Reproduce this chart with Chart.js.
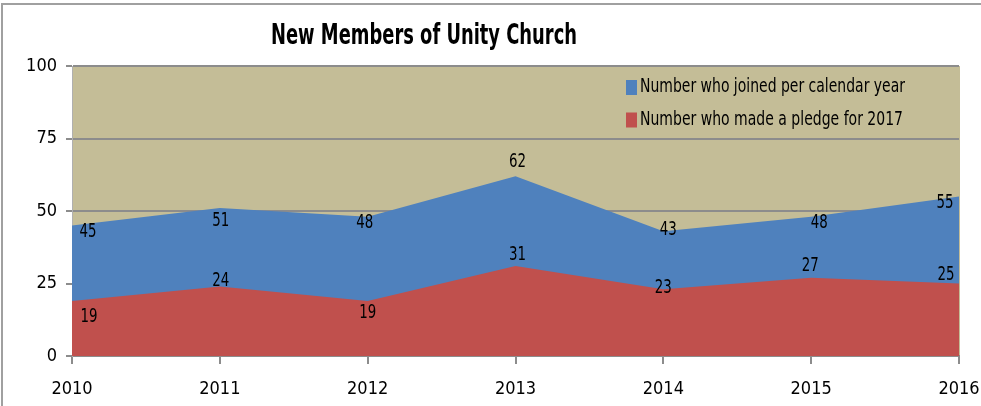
<!DOCTYPE html>
<html>
<head>
<meta charset="utf-8">
<script src="https://cdn.jsdelivr.net/npm/chart.js@4"></script>
<style>
  html, body { margin: 0; padding: 0; background: #fff; }
  #wrap { width: 981px; height: 406px; }
</style>
</head>
<body>
<div id="wrap"><canvas id="membersChart" width="981" height="406"></canvas></div>
<script>
const years = ['2010', '2011', '2012', '2013', '2014', '2015', '2016'];
const joined = [45, 51, 48, 62, 43, 48, 55];
const pledged = [19, 24, 19, 31, 23, 27, 25];
const yTicks = [0, 25, 50, 75, 100];

const chartTitle = 'New Members of Unity Church';
const joinedLabel = 'Number who joined per calendar year';
const pledgedLabel = 'Number who made a pledge for 2017';

// label nudges (px) so numbers sit where the original puts them
const joinedNudge = [[16, 7], [1, 13], [-3, 6], [2, -14], [5, -1], [8, 6], [-14, 7]];
const pledgedNudge = [[17, 16], [1, -5], [0, 12], [2, -11], [0, -1], [-1, -12], [-13, -8]];

const NARROW = '"Liberation Sans Narrow", "Arial Narrow", "DejaVu Sans Condensed", sans-serif';
const BLUE = '#4F81BD';
const RED = '#C0504D';
const TAN = '#C4BD97';
const GRID = '#8C8C8C';

const plotBackground = {
  id: 'plotBackground',
  beforeDraw(chart) {
    const { ctx, chartArea: a } = chart;
    ctx.save();
    ctx.fillStyle = TAN;
    ctx.fillRect(a.left, a.top, a.right - a.left + 1, a.bottom - a.top);
    ctx.restore();
  }
};

const frameAndTitle = {
  id: 'frameAndTitle',
  afterDraw(chart) {
    const { ctx } = chart;
    ctx.save();
    ctx.strokeStyle = '#A0A0A0';
    ctx.lineWidth = 2;
    ctx.beginPath();
    ctx.moveTo(2, 406);
    ctx.lineTo(2, 4);
    ctx.lineTo(981, 4);
    ctx.stroke();

    ctx.fillStyle = '#000';
    ctx.font = 'bold 29px ' + NARROW;
    ctx.textAlign = 'center';
    ctx.textBaseline = 'middle';
    ctx.fillText(chartTitle, 424, 36, 306);
    ctx.restore();
  }
};

const insideLegend = {
  id: 'insideLegend',
  afterDatasetsDraw(chart) {
    const { ctx } = chart;
    const items = [[joinedLabel, BLUE, 87.5, 265], [pledgedLabel, RED, 120, 265]];
    ctx.save();
    ctx.font = '19px ' + NARROW;
    ctx.textBaseline = 'middle';
    ctx.textAlign = 'left';
    items.forEach(([text, color, y, w]) => {
      ctx.fillStyle = color;
      ctx.fillRect(626, y - 7.5, 11, 15);
      ctx.fillStyle = '#000';
      ctx.fillText(text, 640, y, text === pledgedLabel ? 263 : w);
    });
    ctx.restore();
  }
};

const valueLabels = {
  id: 'valueLabels',
  afterDatasetsDraw(chart) {
    const { ctx } = chart;
    ctx.save();
    ctx.font = '19px ' + NARROW;
    ctx.fillStyle = '#000';
    ctx.textAlign = 'center';
    ctx.textBaseline = 'middle';
    chart.data.datasets.forEach((ds, i) => {
      const meta = chart.getDatasetMeta(i);
      const nudge = ds.nudge;
      meta.data.forEach((pt, j) => {
        ctx.fillText(String(ds.data[j]), pt.x + nudge[j][0], pt.y + nudge[j][1], 17);
      });
    });
    ctx.restore();
  }
};

new Chart(document.getElementById('membersChart'), {
  type: 'line',
  data: {
    labels: years,
    datasets: [
      // dataset 0 is painted last, so the pledge area sits over the joined area
      {
        label: pledgedLabel,
        data: pledged,
        nudge: pledgedNudge,
        backgroundColor: RED,
        borderWidth: 0,
        fill: 'origin',
        pointRadius: 0,
        tension: 0
      },
      {
        label: joinedLabel,
        data: joined,
        nudge: joinedNudge,
        backgroundColor: BLUE,
        borderWidth: 0,
        fill: 'origin',
        pointRadius: 0,
        tension: 0
      }
    ]
  },
  options: {
    responsive: false,
    animation: false,
    layout: { padding: { top: 66, right: 22, left: 0, bottom: 0 } },
    plugins: {
      legend: { display: false },
      title: { display: false },
      tooltip: { enabled: false }
    },
    scales: {
      x: {
        offset: false,
        grid: { drawOnChartArea: false, drawTicks: true, tickLength: 8, color: GRID, lineWidth: 2 },
        border: { color: GRID, width: 2 },
        ticks: { color: '#000', font: { family: NARROW, size: 18 }, padding: 15, maxRotation: 0 },
        afterFit(scale) {
          scale.height = 50;
          scale.paddingLeft = 0;
          scale.paddingRight = 0;
        }
      },
      y: {
        min: 0,
        max: 100,
        afterBuildTicks(scale) { scale.ticks = yTicks.map(v => ({ value: v })); },
        grid: { color: GRID, lineWidth: 2, tickLength: 6, drawTicks: true },
        border: { color: '#B0B0B0', width: 1 },
        ticks: { color: '#000', font: { family: NARROW, size: 18 }, padding: 9 },
        afterFit(scale) {
          scale.width = 72;
          scale.paddingTop = 0;
          scale.paddingBottom = 0;
        }
      }
    }
  },
  plugins: [plotBackground, valueLabels, insideLegend, frameAndTitle]
});
</script>
</body>
</html>
